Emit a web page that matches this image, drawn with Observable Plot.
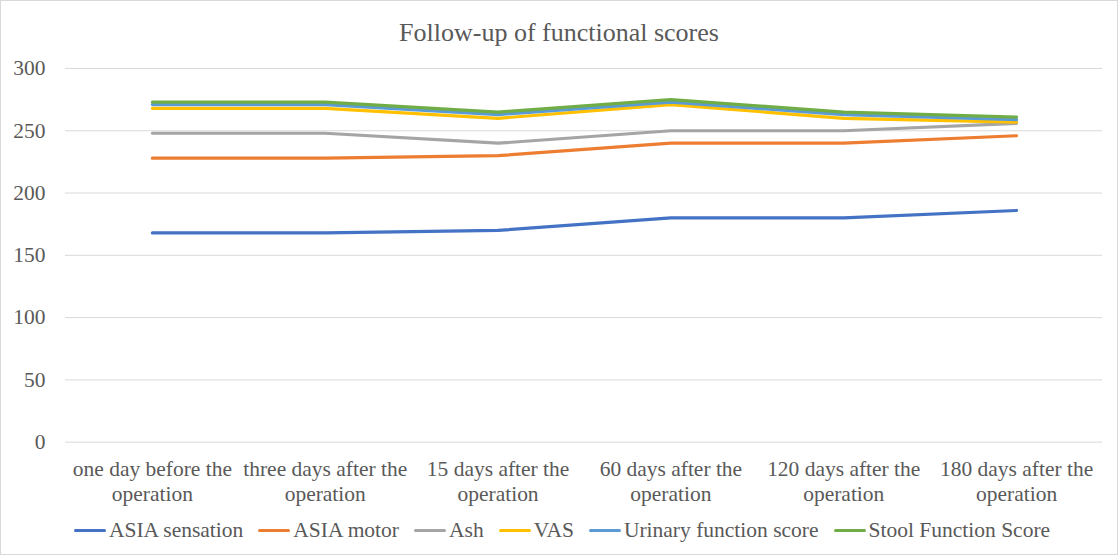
<!DOCTYPE html>
<html>
<head>
<meta charset="utf-8">
<script src="https://cdn.jsdelivr.net/npm/d3@7"></script>
<script src="https://cdn.jsdelivr.net/npm/@observablehq/plot@0.6"></script>
<style>
  html, body { margin: 0; padding: 0; background: #fff; }
  #chart {
    position: relative; width: 1118px; height: 555px; box-sizing: border-box;
    border: 1px solid #d9d9d9; font-family: "Liberation Serif", "Times New Roman", serif; color: #595959;
    overflow: hidden;
  }
  #title { position: absolute; left: 0; top: 19px; width: 100%; text-align: center;
    font-size: 26px; line-height: 26px; }
  #plot { position: absolute; left: -1px; top: 49px; }
  #legend { position: absolute; left: 0; top: 516px; width: 100%; display: flex; justify-content: center;
    align-items: center; font-size: 21.5px; line-height: 26px; gap: 15px; padding-left: 6px; box-sizing: border-box; }
  .item { display: flex; align-items: center; white-space: nowrap; }
  .swatch { display: inline-block; width: 32px; height: 3px; margin-right: 3px; border-radius: 1.5px; }
</style>
</head>
<body>
<div id="chart">
  <div id="title">Follow-up of functional scores</div>
  <div id="plot"></div>
  <div id="legend"></div>
</div>
<script>
const categories = [
  "one day before the\noperation",
  "three days after the\noperation",
  "15 days after the\noperation",
  "60 days after the\noperation",
  "120 days after the\noperation",
  "180 days after the\noperation"
];
const seriesNames = ["ASIA sensation", "ASIA motor", "Ash", "VAS", "Urinary function score", "Stool Function Score"];
const seriesColors = ["#4472C4", "#ED7D31", "#A5A5A5", "#FFC000", "#5B9BD5", "#70AD47"];

const asiaSensation = [168, 168, 170, 180, 180, 186];
const asiaMotor     = [228, 228, 230, 240, 240, 246];
const ash           = [248, 248, 240, 250, 250, 256];
const vas           = [268, 268, 260, 271, 260, 257];
const urinary       = [271, 271, 263, 273, 263, 259];
const stool         = [273, 273, 265, 275, 265, 261];

const yTicks = [0, 50, 100, 150, 200, 250, 300];

const seriesValues = [asiaSensation, asiaMotor, ash, vas, urinary, stool];
const data = [];
seriesNames.forEach((s, i) => {
  seriesValues[i].forEach((v, j) => data.push({series: s, cat: categories[j], value: v}));
});

const plot = Plot.plot({
  width: 1118,
  height: 463,
  marginTop: 18,
  marginBottom: 71,
  marginLeft: 65,
  marginRight: 15,
  style: {fontFamily: "Liberation Serif, Times New Roman, serif", fontSize: "21.5px", color: "#595959", background: "transparent"},
  x: {type: "point", domain: categories, padding: 0.5, label: null},
  y: {domain: [0, 300], label: null},
  color: {domain: seriesNames, range: seriesColors},
  marks: [
    Plot.gridY(yTicks, {stroke: "#d9d9d9", strokeOpacity: 1, strokeWidth: 1}),
    Plot.axisY(yTicks, {tickSize: 0, tickPadding: 20, label: null, fill: "#595959"}),
    Plot.axisX({tickSize: 0, tickPadding: 17, label: null, lineHeight: 1.13, fill: "#595959", tickFormat: d => d}),
    Plot.lineY(data, {x: "cat", y: "value", stroke: "series", z: "series", strokeWidth: 3.2,
      strokeLinejoin: "round", strokeLinecap: "round"})
  ]
});
document.getElementById("plot").appendChild(plot);

const legend = document.getElementById("legend");
seriesNames.forEach((s, i) => {
  const item = document.createElement("div");
  item.className = "item";
  const sw = document.createElement("span");
  sw.className = "swatch";
  sw.style.background = seriesColors[i];
  item.appendChild(sw);
  const t = document.createElement("span");
  t.textContent = s;
  item.appendChild(t);
  legend.appendChild(item);
});
</script>
</body>
</html>
